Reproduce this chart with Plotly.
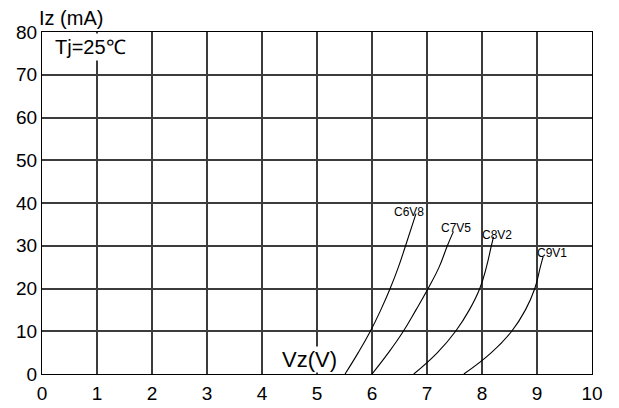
import plotly.graph_objects as go

# Zener characteristics: reverse current Iz (mA) against voltage Vz (V), Tj = 25 °C
c6v8_vz = [5.51, 5.75, 5.97, 6.16, 6.33, 6.48, 6.61, 6.80]
c6v8_iz = [0, 5, 10, 15, 20, 25, 30, 37.5]

c7v5_vz = [6.00, 6.30, 6.57, 6.80, 7.02, 7.22, 7.37, 7.48]
c7v5_iz = [0, 5, 10, 15, 20, 25, 30, 33.3]

c8v2_vz = [6.76, 7.19, 7.52, 7.77, 7.96, 8.08, 8.17, 8.21]
c8v2_iz = [0, 5, 10, 15, 20, 25, 30, 32.1]

c9v1_vz = [7.67, 8.17, 8.54, 8.79, 8.96, 9.06, 9.11]
c9v1_iz = [0, 5, 10, 15, 20, 25, 27.4]

series = [
    ("C6V8", c6v8_vz, c6v8_iz, (6.67, 38.0)),
    ("C7V5", c7v5_vz, c7v5_iz, (7.53, 34.1)),
    ("C8V2", c8v2_vz, c8v2_iz, (8.27, 32.5)),
    ("C9V1", c9v1_vz, c9v1_iz, (9.28, 28.2)),
]

x_ticks = list(range(0, 11))
y_ticks = list(range(0, 90, 10))

FONT = "Arial, Liberation Sans, sans-serif"

fig = go.Figure()
for name, vz, iz, _ in series:
    fig.add_trace(go.Scatter(
        x=vz, y=iz, mode="lines", name=name,
        line=dict(color="black", width=1.1, shape="spline", smoothing=1.3),
        hoverinfo="skip", showlegend=False,
    ))

annotations = []
for name, vz, iz, (lx, ly) in series:
    annotations.append(dict(
        x=lx, y=ly, xref="x", yref="y", text=name, showarrow=False,
        font=dict(family=FONT, size=12, color="black"),
        xanchor="center", yanchor="middle",
    ))

annotations += [
    dict(x=-0.01, y=1.04, xref="paper", yref="paper", text="Iz (mA)",
         showarrow=False, xanchor="left", yanchor="middle",
         font=dict(family=FONT, size=20, color="black")),
    dict(x=0.19, y=76.6, xref="x", yref="y", text="Tj=25℃",
         showarrow=False, xanchor="left", yanchor="middle",
         bgcolor="white", borderpad=2,
         font=dict(family=FONT, size=20, color="black")),
    dict(x=4.86, y=3.3, xref="x", yref="y", text="Vz(V)",
         showarrow=False, xanchor="center", yanchor="middle",
         bgcolor="white", borderpad=0,
         font=dict(family=FONT, size=22, color="black")),
]

fig.update_layout(
    width=619, height=408,
    margin=dict(l=42, r=27, t=32, b=34),
    paper_bgcolor="white", plot_bgcolor="white",
    font=dict(family=FONT, size=19, color="black"),
    annotations=annotations,
)
fig.update_xaxes(
    range=[0, 10], tickvals=x_ticks, ticktext=[str(v) for v in x_ticks],
    showgrid=True, gridcolor="#3c3c3c", gridwidth=1.5,
    showline=True, linecolor="black", linewidth=1.2, mirror=True,
    ticks="", zeroline=False, ticklabelstandoff=2, automargin=False,
    tickfont=dict(family=FONT, size=19, color="black"),
)
fig.update_yaxes(
    range=[0, 80], tickvals=y_ticks, ticktext=[str(v) for v in y_ticks],
    showgrid=True, gridcolor="#3c3c3c", gridwidth=1.5,
    showline=True, linecolor="black", linewidth=1.2, mirror=True,
    ticks="", zeroline=False, ticklabelstandoff=0, automargin=False,
    tickfont=dict(family=FONT, size=19, color="black"),
)

fig.write_html("out.html")
